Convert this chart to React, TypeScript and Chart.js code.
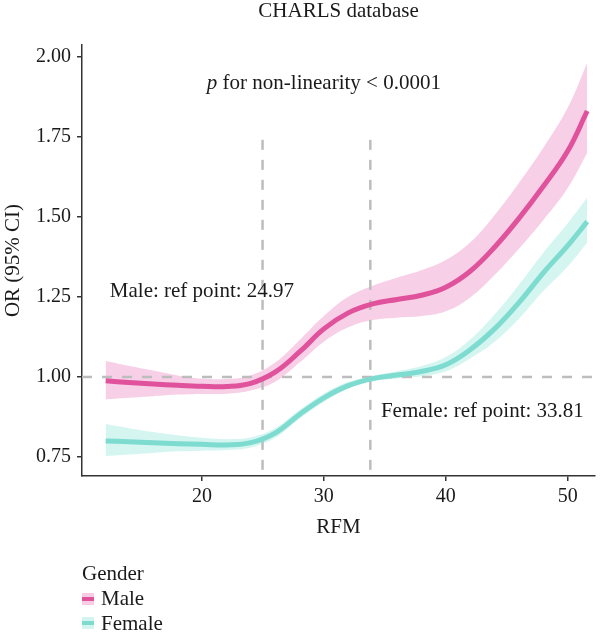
import React, { useEffect, useRef } from "react";
import { Chart, registerables } from "chart.js";

Chart.register(...registerables);

// RFM values where the spline fits are sampled
const rfm = [12.1, 14, 16, 18, 20, 22, 24, 26, 28, 30, 32, 34, 36, 38, 40, 42, 44, 46, 48, 50, 51.6];

// Male: odds ratio and 95% CI
const maleOR = [0.988, 0.983, 0.978, 0.974, 0.971, 0.97, 0.98, 1.015, 1.078, 1.15, 1.2, 1.228, 1.242, 1.255, 1.28, 1.33, 1.405, 1.495, 1.595, 1.705, 1.83];
const maleUpper = [1.05, 1.035, 1.02, 1.005, 0.995, 0.994, 1.005, 1.045, 1.115, 1.19, 1.25, 1.285, 1.31, 1.333, 1.365, 1.42, 1.505, 1.605, 1.715, 1.84, 1.98];
const maleLower = [0.93, 0.935, 0.94, 0.945, 0.947, 0.948, 0.958, 0.985, 1.045, 1.11, 1.155, 1.178, 1.185, 1.19, 1.205, 1.248, 1.318, 1.4, 1.49, 1.59, 1.7];

// Female: odds ratio and 95% CI
const femaleOR = [0.8, 0.798, 0.795, 0.792, 0.79, 0.788, 0.795, 0.825, 0.883, 0.935, 0.973, 0.995, 1.006, 1.017, 1.038, 1.085, 1.15, 1.232, 1.325, 1.41, 1.485];
const femaleUpper = [0.853, 0.84, 0.828, 0.818, 0.81, 0.806, 0.812, 0.84, 0.897, 0.948, 0.984, 1.004, 1.018, 1.034, 1.062, 1.117, 1.195, 1.288, 1.388, 1.48, 1.56];
const femaleLower = [0.753, 0.758, 0.763, 0.768, 0.77, 0.772, 0.78, 0.81, 0.87, 0.922, 0.963, 0.987, 0.995, 1.002, 1.018, 1.058, 1.11, 1.182, 1.268, 1.345, 1.42];

const xTicks = [20, 30, 40, 50];
const yTicks = [0.75, 1.0, 1.25, 1.5, 1.75, 2.0];

const maleRefPoint = 24.97;
const femaleRefPoint = 33.81;
const refLineTop = 1.74;
const nullOR = 1.0;

const chartTitle = "CHARLS database";
const xTitle = "RFM";
const yTitle = "OR (95% CI)";
const legendTitle = "Gender";
const seriesNames = ["Male", "Female"];

const MALE_LINE = "#e0529c";
const MALE_BAND = "rgba(240, 160, 205, 0.5)";
const FEMALE_LINE = "#7ddbd0";
const FEMALE_BAND = "rgba(160, 232, 222, 0.45)";
const DASH = "#bdbdbd";
const INK = "#1a1a1a";
const FONT = "'Liberation Serif', 'DejaVu Serif', serif";
const TEXT_SIZE = 21;

const pts = (ys: number[]) => rfm.map((x, i) => ({ x, y: ys[i] }));

const annotationPlugin = {
  id: "rcsAnnotations",
  beforeDatasetDraw(chart: any, args: any) {
    // reference lines go above the CI bands, below the fitted curves
    if (args.index !== 1) return;
    const { ctx, chartArea, scales } = chart;
    const xs = scales.x;
    const ys = scales.y;
    ctx.save();
    ctx.strokeStyle = DASH;
    ctx.lineWidth = 2.5;
    ctx.setLineDash([10, 10]);
    const y1 = ys.getPixelForValue(nullOR);
    ctx.beginPath();
    ctx.moveTo(chartArea.left, y1);
    ctx.lineTo(chartArea.right, y1);
    ctx.stroke();
    for (const ref of [maleRefPoint, femaleRefPoint]) {
      const px = xs.getPixelForValue(ref);
      ctx.beginPath();
      ctx.moveTo(px, ys.getPixelForValue(refLineTop));
      ctx.lineTo(px, chartArea.bottom);
      ctx.stroke();
    }
    ctx.restore();
  },
  afterDraw(chart: any) {
    const { ctx, chartArea, scales } = chart;
    const xs = scales.x;
    const ys = scales.y;
    const midX = (chartArea.left + chartArea.right) / 2;
    const font = `${TEXT_SIZE}px ${FONT}`;
    const italic = `italic ${TEXT_SIZE}px ${FONT}`;
    ctx.save();
    ctx.fillStyle = INK;
    ctx.textBaseline = "alphabetic";
    ctx.font = font;

    // title
    ctx.textAlign = "center";
    ctx.fillText(chartTitle, midX, 17);

    // p for non-linearity, italic p
    const rest = " for non-linearity < 0.0001";
    ctx.font = italic;
    const wp = ctx.measureText("p").width;
    ctx.font = font;
    const wr = ctx.measureText(rest).width;
    const cx = xs.getPixelForValue(30);
    const by = ys.getPixelForValue(1.9);
    const startX = cx - (wp + wr) / 2;
    ctx.textAlign = "left";
    ctx.font = italic;
    ctx.fillText("p", startX, by);
    ctx.font = font;
    ctx.fillText(rest, startX + wp, by);

    // reference point labels
    ctx.textAlign = "center";
    ctx.fillText(`Male: ref point: ${maleRefPoint}`, xs.getPixelForValue(20), ys.getPixelForValue(1.25));
    ctx.fillText(`Female: ref point: ${femaleRefPoint}`, xs.getPixelForValue(43), ys.getPixelForValue(0.875));

    // axis titles
    ctx.fillText(xTitle, midX, 533);
    ctx.save();
    ctx.translate(19, (chartArea.top + chartArea.bottom) / 2);
    ctx.rotate(-Math.PI / 2);
    ctx.fillText(yTitle, 0, 0);
    ctx.restore();

    // legend
    ctx.textAlign = "left";
    ctx.fillText(legendTitle, 82, 580);
    const keys = [
      { name: seriesNames[0], band: "#f7cce4", line: MALE_LINE, base: 605, top: 593 },
      { name: seriesNames[1], band: "#d3f4ef", line: FEMALE_LINE, base: 630, top: 617 },
    ];
    for (const k of keys) {
      ctx.fillStyle = k.band;
      ctx.fillRect(82, k.top, 12, 12);
      ctx.fillStyle = k.line;
      ctx.fillRect(82, k.top + 4, 12, 4);
      ctx.fillStyle = INK;
      ctx.fillText(k.name, 101, k.base);
    }
    ctx.restore();
  },
};

export default function App() {
  const canvasRef = useRef<HTMLCanvasElement | null>(null);

  useEffect(() => {
    const canvas = canvasRef.current;
    if (!canvas) return;
    const lineCommon = {
      pointRadius: 0,
      tension: 0.4,
    };
    const chart = new Chart(canvas, {
      type: "line",
      data: {
        datasets: [
          { label: "Male", data: pts(maleOR), borderColor: MALE_LINE, borderWidth: 5, fill: false, ...lineCommon },
          { label: "Female", data: pts(femaleOR), borderColor: FEMALE_LINE, borderWidth: 5, fill: false, ...lineCommon },
          { label: "Male upper", data: pts(maleUpper), borderWidth: 0, borderColor: "transparent", backgroundColor: MALE_BAND, fill: 3, ...lineCommon },
          { label: "Male lower", data: pts(maleLower), borderWidth: 0, borderColor: "transparent", fill: false, ...lineCommon },
          { label: "Female upper", data: pts(femaleUpper), borderWidth: 0, borderColor: "transparent", backgroundColor: FEMALE_BAND, fill: 5, ...lineCommon },
          { label: "Female lower", data: pts(femaleLower), borderWidth: 0, borderColor: "transparent", fill: false, ...lineCommon },
        ],
      },
      options: {
        animation: false,
        responsive: false,
        events: [],
        layout: { padding: { left: 0, right: 5, top: 45, bottom: 0 } },
        plugins: {
          legend: { display: false },
          tooltip: { enabled: false },
          title: { display: false },
        },
        scales: {
          x: {
            type: "linear",
            min: 10.16,
            max: 52.24,
            afterBuildTicks: (s: any) => {
              s.ticks = xTicks.map((v) => ({ value: v }));
            },
            afterFit: (s: any) => {
              s.height = 162;
            },
            ticks: {
              color: INK,
              font: { family: FONT, size: 20 },
              padding: 4,
              maxRotation: 0,
              callback: (v: any) => String(v),
            },
            grid: { display: true, drawOnChartArea: false, drawTicks: true, tickLength: 5, color: "#333", lineWidth: 1.5 },
            border: { display: true, color: "#333", width: 1.5 },
          },
          y: {
            type: "linear",
            min: 0.691,
            max: 2.036,
            afterBuildTicks: (s: any) => {
              s.ticks = yTicks.map((v) => ({ value: v }));
            },
            afterFit: (s: any) => {
              s.width = 82;
            },
            ticks: {
              color: INK,
              font: { family: FONT, size: 20 },
              padding: 6,
              callback: (v: any) => Number(v).toFixed(2),
            },
            grid: { display: true, drawOnChartArea: false, drawTicks: true, tickLength: 5, color: "#333", lineWidth: 1.5 },
            border: { display: true, color: "#333", width: 1.5 },
          },
        },
      },
      plugins: [annotationPlugin],
    });
    return () => chart.destroy();
  }, []);

  return (
    <div style={{ position: "absolute", left: 0, top: 0, width: 600, height: 638, background: "#fff" }}>
      <canvas ref={canvasRef} width={600} height={638} />
    </div>
  );
}
